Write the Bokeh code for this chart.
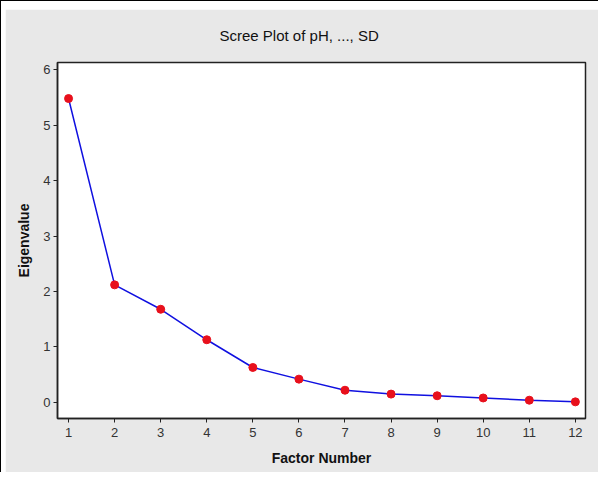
from bokeh.plotting import figure
from bokeh.models import Range1d, FixedTicker
from bokeh.embed import file_html
from bokeh.resources import INLINE

factor_number = [1, 2, 3, 4, 5, 6, 7, 8, 9, 10, 11, 12]
eigenvalue = [5.48, 2.12, 1.68, 1.13, 0.63, 0.42, 0.22, 0.15, 0.12, 0.08, 0.04, 0.01]
x_ticks = [1, 2, 3, 4, 5, 6, 7, 8, 9, 10, 11, 12]
y_ticks = [0, 1, 2, 3, 4, 5, 6]
title_text = "Scree Plot of pH, ..., SD"

# padding of the host element eats 5px of width and 9px of height
p = figure(width=598, height=472, output_backend="svg", toolbar_location=None,
           x_range=Range1d(0.76, 12.22), y_range=Range1d(-0.29, 6.13),
           min_border_left=52, min_border_right=18, min_border_top=53, min_border_bottom=63,
           title=title_text)
p.styles = {"border-left": "1px solid #000", "border-top": "1px solid #000",
            "padding-left": "4px", "padding-top": "8px"}
p.border_fill_color = "#e8e8e8"
p.background_fill_color = "white"
p.outline_line_color = "#222222"
p.outline_line_width = 1.5

p.title.align = "left"
p.title.offset = 162
p.title.text_font = "Liberation Sans"
p.title.text_font_size = "15px"
p.title.text_font_style = "normal"
p.title.text_color = "#111111"
p.title.vertical_align = "top"
p.title.standoff = 34

p.xgrid.visible = False
p.ygrid.visible = False

for ax in (p.xaxis[0], p.yaxis[0]):
    ax.axis_line_color = "#222222"
    ax.axis_line_width = 1.5
    ax.major_tick_line_color = "#222222"
    ax.major_tick_in = 0
    ax.major_tick_out = 4
    ax.minor_tick_line_color = None
    ax.major_label_text_font = "Liberation Sans"
    ax.major_label_text_font_size = "13px"
    ax.major_label_text_color = "#333333"
    ax.axis_label_text_font = "Liberation Sans"
    ax.axis_label_text_font_size = "14px"
    ax.axis_label_text_font_style = "bold"
    ax.axis_label_text_color = "#111111"

p.xaxis.ticker = FixedTicker(ticks=x_ticks)
p.yaxis.ticker = FixedTicker(ticks=y_ticks)
p.xaxis.axis_label = "Factor Number"
p.yaxis.axis_label = "Eigenvalue"
p.xaxis.major_label_standoff = 5
p.yaxis.major_label_standoff = 3
p.xaxis.axis_label_standoff = 10
p.yaxis.axis_label_standoff = 8

p.line(factor_number, eigenvalue, line_color="#1010e0", line_width=1.5)
p.scatter(factor_number, eigenvalue, size=8, marker="circle",
          fill_color="#e8101c", line_color="#e8101c")

open("out.html", "w").write(file_html(p, INLINE))
